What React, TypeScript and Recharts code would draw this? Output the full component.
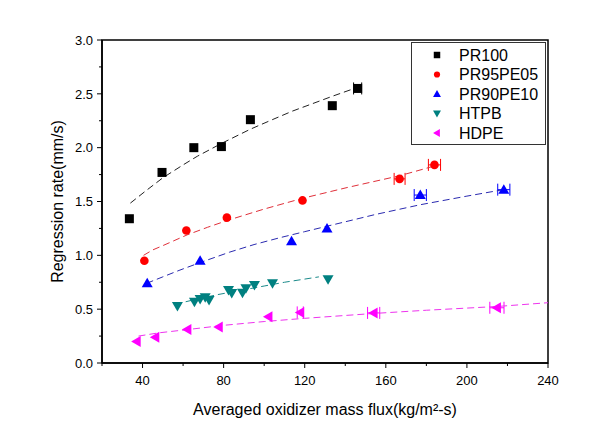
import React from 'react';
import { ScatterChart, Scatter, XAxis, YAxis, ErrorBar, ReferenceArea, Legend, Label } from 'recharts';

const FONT = "Arial, 'Liberation Sans', sans-serif";

// ---- axis ticks ----
const xTicks = [20, 40, 60, 80, 100, 120, 140, 160, 180, 200, 220, 240];
const xMajor = [40, 80, 120, 160, 200, 240];
const yTicks = [0, 0.25, 0.5, 0.75, 1, 1.25, 1.5, 1.75, 2, 2.25, 2.5, 2.75, 3];
const yMajor = [0, 0.5, 1, 1.5, 2, 2.5, 3];

// ---- measured points ----
const pr100X = [33.5, 49.6, 65.3, 78.9, 93.2, 133.6, 146.1];
const pr100Y = [1.34, 1.77, 2.0, 2.01, 2.26, 2.39, 2.55];
const pr100Err = [0, 0, 0, 0, 0, 0, 2];

const pr95X = [40.9, 61.6, 81.6, 118.9, 166.8, 184.0];
const pr95Y = [0.95, 1.23, 1.35, 1.51, 1.71, 1.84];
const pr95Err = [0, 0, 0, 0, 2.7, 3];

const pr90X = [42.3, 68.4, 113.5, 131.0, 177.0, 218.2];
const pr90Y = [0.74, 0.95, 1.13, 1.25, 1.56, 1.61];
const pr90Err = [0, 0, 0, 0, 3, 3];

const htpbX = [57.2, 65.6, 68.4, 70.9, 72.8, 82.4, 84.0, 89.3, 91.0, 95.2, 104.1, 131.5];
const htpbY = [0.53, 0.57, 0.594, 0.61, 0.585, 0.678, 0.65, 0.653, 0.694, 0.724, 0.74, 0.777];

const hdpeX = [37.1, 46.3, 62.1, 77.6, 102.1, 117.8, 154.0, 214.8];
const hdpeY = [0.2, 0.24, 0.31, 0.335, 0.43, 0.47, 0.465, 0.513];
const hdpeErr = [0, 0, 0, 0, 0, 1.5, 3, 3.5];

// ---- fitted curves ----
const pr100FitX = [34, 41, 50, 60, 67, 79, 93, 104, 114, 124, 134, 146];
const pr100FitY = [1.485, 1.59, 1.72, 1.84, 1.92, 2.04, 2.17, 2.26, 2.34, 2.41, 2.48, 2.56];

const pr95FitX = [40.5, 45, 50, 56, 62, 72, 82, 100, 119, 141, 167, 184];
const pr95FitY = [1.0, 1.05, 1.09, 1.14, 1.19, 1.26, 1.325, 1.43, 1.53, 1.63, 1.74, 1.83];

const pr90FitX = [42, 50, 58, 68, 83, 95, 108, 120, 132, 155, 177, 200, 218];
const pr90FitY = [0.74, 0.8, 0.86, 0.93, 1.03, 1.1, 1.165, 1.22, 1.275, 1.38, 1.47, 1.55, 1.61];

const htpbFitX = [56, 66, 77, 90, 100, 110, 127];
const htpbFitY = [0.545, 0.59, 0.635, 0.68, 0.715, 0.75, 0.8];

const hdpeFitX = [38, 48, 62, 80, 100, 120, 154, 180, 215, 240];
const hdpeFitY = [0.25, 0.28, 0.31, 0.35, 0.385, 0.415, 0.46, 0.49, 0.525, 0.56];

const COLORS = {
  pr100: '#000000',
  pr95: '#ff0000',
  pr90: '#0000ff',
  htpb: '#008080',
  hdpe: '#ff00ff',
};

type Pt = { x: number; y: number; ex?: number };
const pts = (xs: number[], ys: number[], ex?: number[]): Pt[] =>
  xs.map((x, i) => ({ x, y: ys[i], ex: ex ? ex[i] : 0 }));

function marker(kind: string, cx: number, cy: number, color: string, s: number) {
  if (kind === 'square')
    return <rect x={cx - 4.5 * s} y={cy - 4.5 * s} width={9 * s} height={9 * s} fill={color} />;
  if (kind === 'circle') return <circle cx={cx} cy={cy} r={4.3 * s} fill={color} />;
  if (kind === 'up')
    return (
      <polygon
        points={`${cx},${cy - 5.5 * s} ${cx - 5.5 * s},${cy + 4 * s} ${cx + 5.5 * s},${cy + 4 * s}`}
        fill={color}
      />
    );
  if (kind === 'down')
    return (
      <polygon
        points={`${cx - 5.5 * s},${cy - 4 * s} ${cx + 5.5 * s},${cy - 4 * s} ${cx},${cy + 5.5 * s}`}
        fill={color}
      />
    );
  return (
    <polygon
      points={`${cx - 5.5 * s},${cy} ${cx + 4 * s},${cy - 5.5 * s} ${cx + 4 * s},${cy + 5.5 * s}`}
      fill={color}
    />
  );
}

const shapeOf = (kind: string, color: string) => (props: any) => {
  const { cx, cy } = props;
  if (cx == null || cy == null) return <g />;
  return marker(kind, cx, cy, color, 1);
};

const noShape = () => <g />;

const legendItems = [
  { name: 'PR100', color: COLORS.pr100, kind: 'square' },
  { name: 'PR95PE05', color: COLORS.pr95, kind: 'circle' },
  { name: 'PR90PE10', color: COLORS.pr90, kind: 'up' },
  { name: 'HTPB', color: COLORS.htpb, kind: 'down' },
  { name: 'HDPE', color: COLORS.hdpe, kind: 'left' },
];

const renderLegend = () => (
  <div
    style={{
      width: 135,
      height: 103,
      border: '1px solid #333',
      boxSizing: 'border-box',
      background: '#fff',
    }}
  >
    <svg width={133} height={101} style={{ display: 'block' }}>
      {legendItems.map((it, i) => {
        const cy = 12 + i * 19.5;
        return (
          <g key={it.name}>
            {marker(it.kind, 25, cy, it.color, 0.72)}
            <text x={47} y={cy + 5.7} fontSize={16} fontFamily={FONT} fill="#000">
              {it.name}
            </text>
          </g>
        );
      })}
    </svg>
  </div>
);

const XTick = (props: any) => {
  const { x, y, payload } = props;
  const v = payload.value;
  const major = xMajor.includes(v);
  return (
    <g>
      <line x1={x} x2={x} y1={y} y2={y + (major ? 5 : 3)} stroke="#000" strokeWidth={1} />
      {major && (
        <text x={x} y={y + 22} textAnchor="middle" fontSize={13} fontFamily={FONT} fill="#000">
          {v}
        </text>
      )}
    </g>
  );
};

const YTick = (props: any) => {
  const { x, y, payload } = props;
  const v = payload.value;
  const major = yMajor.some((m) => Math.abs(m - v) < 1e-9);
  return (
    <g>
      <line x1={x - (major ? 5 : 3)} x2={x} y1={y} y2={y} stroke="#000" strokeWidth={1} />
      {major && (
        <text x={x - 9} y={y} dy="0.36em" textAnchor="end" fontSize={13} fontFamily={FONT} fill="#000">
          {v.toFixed(1)}
        </text>
      )}
    </g>
  );
};

const XTitle = (props: any) => {
  const vb = props.viewBox || { x: 0, y: 0, width: 0, height: 0 };
  return (
    <text x={vb.x + vb.width / 2} y={vb.y + 52} textAnchor="middle" fontSize={16} fontFamily={FONT} fill="#000">
      Averaged oxidizer mass flux(kg/m²-s)
    </text>
  );
};

const YTitle = (props: any) => {
  const vb = props.viewBox || { x: 0, y: 0, width: 0, height: 0 };
  const cx = vb.x + 63;
  const cy = vb.y + vb.height / 2;
  return (
    <text
      x={cx}
      y={cy}
      transform={`rotate(-90 ${cx} ${cy})`}
      textAnchor="middle"
      fontSize={16}
      fontFamily={FONT}
      fill="#000"
    >
      Regression rate(mm/s)
    </text>
  );
};

const fitLine = (color: string) => ({ stroke: color, strokeWidth: 1, strokeDasharray: '7 4' });

export default function App() {
  return (
    <div style={{ position: 'absolute', left: 0, top: 0, background: '#fff' }}>
      <ScatterChart width={590} height={425} margin={{ top: 40, right: 42, bottom: 0, left: 0 }}>
        <XAxis
          type="number"
          dataKey="x"
          domain={[20, 240]}
          ticks={xTicks}
          interval={0}
          allowDataOverflow
          height={62}
          tickSize={0}
          tickMargin={0}
          tickLine={false}
          axisLine={{ stroke: '#000', strokeWidth: 1.5 }}
          tick={<XTick />}
        >
          <Label content={<XTitle />} />
        </XAxis>
        <YAxis
          type="number"
          dataKey="y"
          domain={[0, 3]}
          ticks={yTicks}
          interval={0}
          allowDataOverflow
          width={102}
          tickSize={0}
          tickMargin={0}
          tickLine={false}
          axisLine={{ stroke: '#000', strokeWidth: 1.5 }}
          tick={<YTick />}
        >
          <Label content={<YTitle />} />
        </YAxis>
        <ReferenceArea x1={20} x2={240} y1={0} y2={3} fill="none" stroke="#000" strokeWidth={1.5} />

        <Scatter data={pts(pr100FitX, pr100FitY)} line={fitLine('#222222')} lineType="joint" shape={noShape} isAnimationActive={false} legendType="none" />
        <Scatter data={pts(pr95FitX, pr95FitY)} line={fitLine('#e0303a')} lineType="joint" shape={noShape} isAnimationActive={false} legendType="none" />
        <Scatter data={pts(pr90FitX, pr90FitY)} line={fitLine('#2a2ab0')} lineType="joint" shape={noShape} isAnimationActive={false} legendType="none" />
        <Scatter data={pts(htpbFitX, htpbFitY)} line={fitLine('#1a8a8a')} lineType="joint" shape={noShape} isAnimationActive={false} legendType="none" />
        <Scatter data={pts(hdpeFitX, hdpeFitY)} line={fitLine('#ee33ee')} lineType="joint" shape={noShape} isAnimationActive={false} legendType="none" />

        <Scatter name="PR100" data={pts(pr100X, pr100Y, pr100Err)} shape={shapeOf('square', COLORS.pr100)} isAnimationActive={false}>
          <ErrorBar dataKey="ex" direction="x" width={6} stroke={COLORS.pr100} strokeWidth={1} />
        </Scatter>
        <Scatter name="PR95PE05" data={pts(pr95X, pr95Y, pr95Err)} shape={shapeOf('circle', COLORS.pr95)} isAnimationActive={false}>
          <ErrorBar dataKey="ex" direction="x" width={6} stroke={COLORS.pr95} strokeWidth={1} />
        </Scatter>
        <Scatter name="PR90PE10" data={pts(pr90X, pr90Y, pr90Err)} shape={shapeOf('up', COLORS.pr90)} isAnimationActive={false}>
          <ErrorBar dataKey="ex" direction="x" width={6} stroke={COLORS.pr90} strokeWidth={1} />
        </Scatter>
        <Scatter name="HTPB" data={pts(htpbX, htpbY)} shape={shapeOf('down', COLORS.htpb)} isAnimationActive={false} />
        <Scatter name="HDPE" data={pts(hdpeX, hdpeY, hdpeErr)} shape={shapeOf('left', COLORS.hdpe)} isAnimationActive={false}>
          <ErrorBar dataKey="ex" direction="x" width={6} stroke={COLORS.hdpe} strokeWidth={1} />
        </Scatter>

        <Legend
          layout="vertical"
          align="center"
          verticalAlign="middle"
          content={renderLegend}
          wrapperStyle={{ position: 'absolute', left: 411, top: 42, width: 135, height: 103 }}
        />
      </ScatterChart>
    </div>
  );
}
